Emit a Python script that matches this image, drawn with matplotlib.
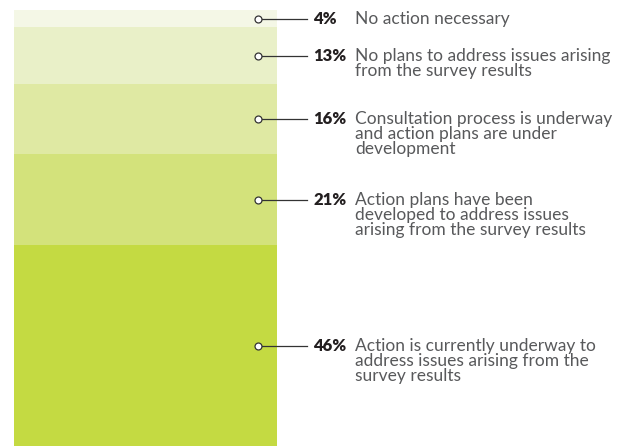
import numpy as np
import matplotlib.pyplot as plt

# survey response shares, top to bottom
pcts = [4, 13, 16, 21, 46]
labels = [
    "No action necessary",
    "No plans to address issues arising\nfrom the survey results",
    "Consultation process is underway\nand action plans are under\ndevelopment",
    "Action plans have been\ndeveloped to address issues\narising from the survey results",
    "Action is currently underway to\naddress issues arising from the\nsurvey results",
]
colors = ["#f4f7e6", "#e9f0c8", "#dfe9a3", "#d3e27b", "#c4da42"]

plt.rcParams['font.family'] = ['Lato', 'DejaVu Sans']

fig = plt.figure(figsize=(6.3, 4.46), dpi=100)
ax = fig.add_axes([0, 0, 1, 436 / 446])
ax.set_xlim(0, 630)
ax.set_ylim(sum(pcts), 0)
ax.axis('off')

vals = np.array(pcts, dtype=float)
bottoms = np.concatenate([[0], np.cumsum(vals)[:-1]])
ax.bar(145.5, vals, bottom=bottoms, width=263, color=colors, linewidth=0)

mids = bottoms + vals / 2
for m, p, lab in zip(mids, pcts, labels):
    ax.plot([261, 307], [m, m], color="#333333", lw=0.9)
    ax.plot(258, m, 'o', ms=5, mfc='white', mec="#333333", mew=0.9)
    ax.annotate(f"{p}%", xy=(313, m), xytext=(0, 5.5), textcoords='offset points',
                va='top', ha='left', fontsize=12, fontweight='heavy', color="#231f20")
    ax.annotate(lab, xy=(355, m), xytext=(0, 5.5), textcoords='offset points',
                va='top', ha='left', fontsize=12.5, color="#58595b", linespacing=0.92)

fig.savefig("out.png", dpi=100)
